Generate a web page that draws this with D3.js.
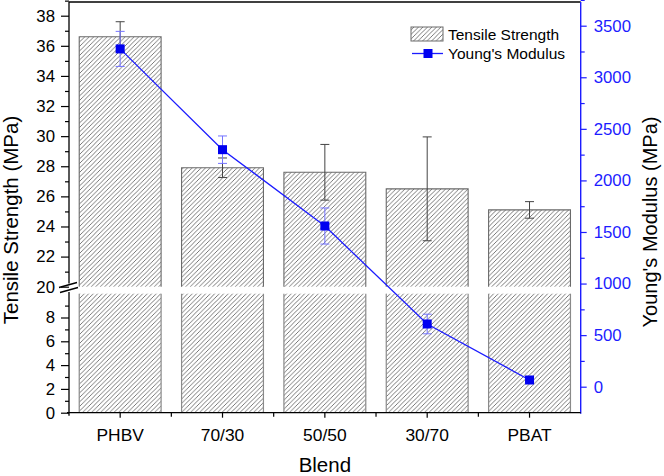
<!DOCTYPE html>
<html><head><meta charset="utf-8">
<script src="https://cdn.jsdelivr.net/npm/d3@7"></script>
<style>
body{margin:0;background:#fff}
svg{display:block;font-family:Arial,"Liberation Sans",sans-serif}
</style>
</head><body>
<svg id="c" width="664" height="476"></svg>
<script>
// ---- data ----
const categories = ["PHBV", "70/30", "50/50", "30/70", "PBAT"];
const tensile = [36.6, 27.9, 27.6, 26.5, 25.1];
const tensileErr = [1.0, 0.65, 1.85, 3.45, 0.55];
const modulus = [3275, 2298, 1558, 608, 65];
const modulusErr = [170, 133, 175, 95, 20];
const leftTicksLower = [0, 2, 4, 6, 8];
const leftTicksUpper = [20, 22, 24, 26, 28, 30, 32, 34, 36, 38];
const rightTicks = [0, 500, 1000, 1500, 2000, 2500, 3000, 3500];
const seriesNames = ["Tensile Strength", "Young's Modulus"];

// ---- layout ----
const L = 69, R = 580.7, T = 2, B = 412.7;
const blue = "#1c1cff", blueErr = "#7474ff";
const svg = d3.select("#c");

const x = d3.scaleBand().domain(categories).range([L, R]).paddingInner(0.2).paddingOuter(0.1);
const yUp = d3.scaleLinear().domain([20, 38]).range([286.7, 15.7]);
const yLo = d3.scaleLinear().domain([0, 10]).range([B, 293.7]);
const yR = d3.scaleLinear().domain([0, 3500]).range([386.7, 25.7]);
const cx = c => x(c) + x.bandwidth() / 2;

// hatch pattern
const defs = svg.append("defs");
const pat = defs.append("pattern").attr("id", "hatch").attr("patternUnits", "userSpaceOnUse")
  .attr("width", 4.5).attr("height", 4.5);
pat.append("rect").attr("width", 4.5).attr("height", 4.5).attr("fill", "#fff");
pat.append("path").attr("d", "M-1,5.5 L5.5,-1 M-1,1 L1,-1 M3.5,5.5 L5.5,3.5")
  .attr("stroke", "#555").attr("stroke-width", 0.8);

// bars
const g = svg.append("g");
categories.forEach((c, i) => {
  const x0 = x(c), w = x.bandwidth();
  g.append("rect").attr("x", x0).attr("y", yLo(10)).attr("width", w).attr("height", yLo(0) - yLo(10))
    .attr("fill", "url(#hatch)");
  g.append("path").attr("d", `M${x0},${yLo(10)}V${yLo(0)}M${x0 + w},${yLo(10)}V${yLo(0)}`)
    .attr("stroke", "#8a8a8a").attr("stroke-width", 1.2).attr("fill", "none");
  const yt = yUp(tensile[i]);
  g.append("rect").attr("x", x0).attr("y", yt).attr("width", w).attr("height", yUp(20) - yt)
    .attr("fill", "url(#hatch)");
  g.append("path").attr("d", `M${x0},${yUp(20)}V${yt}H${x0 + w}V${yUp(20)}`)
    .attr("stroke", "#6a6a6a").attr("stroke-width", 1.1).attr("fill", "none");
});

// tensile error bars
categories.forEach((c, i) => {
  const xc = cx(c), y1 = yUp(tensile[i] + tensileErr[i]), y2 = yUp(tensile[i] - tensileErr[i]);
  g.append("path").attr("d", `M${xc},${y1}V${y2}M${xc - 4.5},${y1}H${xc + 4.5}M${xc - 4.5},${y2}H${xc + 4.5}`)
    .attr("stroke", "#444").attr("stroke-width", 1).attr("fill", "none");
});

// modulus line
const line = d3.line().x((d, i) => cx(categories[i])).y(d => yR(d));
g.append("path").datum(modulus).attr("d", line).attr("stroke", blue).attr("stroke-width", 1.3).attr("fill", "none");
categories.forEach((c, i) => {
  const xc = cx(c), y1 = yR(modulus[i] + modulusErr[i]), y2 = yR(modulus[i] - modulusErr[i]);
  g.append("path").attr("d", `M${xc},${y1}V${y2}M${xc - 4.5},${y1}H${xc + 4.5}M${xc - 4.5},${y2}H${xc + 4.5}`)
    .attr("stroke", blueErr).attr("stroke-width", 1).attr("fill", "none");
});
g.selectAll("rect.pt").data(modulus).enter().append("rect").attr("class", "pt")
  .attr("x", (d, i) => cx(categories[i]) - 4.5).attr("y", d => yR(d) - 4.5)
  .attr("width", 9).attr("height", 9).attr("fill", "#0000f0");

// ---- axes ----
const fs = "16.8px";
svg.append("line").attr("x1", L).attr("x2", R).attr("y1", T).attr("y2", T).attr("stroke", "#000").attr("stroke-width", 1.3);

function styleAxis(sel, col) {
  sel.selectAll("path.domain").remove();
  sel.selectAll("line").attr("stroke", col).attr("stroke-width", 1.2);
  sel.selectAll("text").attr("fill", col).style("font-size", fs).style("font-family", "Arial,'Liberation Sans',sans-serif");
}
const axU = svg.append("g").attr("transform", `translate(${L},0)`)
  .call(d3.axisLeft(yUp).tickValues(leftTicksUpper).tickSize(8).tickPadding(6).tickFormat(d3.format("d")));
styleAxis(axU, "#000");
const axUm = svg.append("g").attr("transform", `translate(${L},0)`)
  .call(d3.axisLeft(yUp).tickValues(leftTicksUpper.map(v => v + 1)).tickSize(4).tickFormat(""));
styleAxis(axUm, "#000");
const axL = svg.append("g").attr("transform", `translate(${L},0)`)
  .call(d3.axisLeft(yLo).tickValues(leftTicksLower).tickSize(8).tickPadding(6).tickFormat(d3.format("d")));
styleAxis(axL, "#000");
const axLm = svg.append("g").attr("transform", `translate(${L},0)`)
  .call(d3.axisLeft(yLo).tickValues(leftTicksLower.map(v => v + 1)).tickSize(4).tickFormat(""));
styleAxis(axLm, "#000");
svg.append("path").attr("d", `M${L},${T}V283.5M${L},292V${B + 3}`).attr("stroke", "#000").attr("stroke-width", 1.3);
svg.append("path").attr("d", "M59,287.5L77,282.5M60,292.5L78,287.5").attr("stroke", "#000").attr("stroke-width", 1.3);

const axR = svg.append("g").attr("transform", `translate(${R},0)`)
  .call(d3.axisRight(yR).tickValues(rightTicks).tickSize(6).tickPadding(7).tickFormat(d3.format("d")));
styleAxis(axR, blue);
const axRm = svg.append("g").attr("transform", `translate(${R},0)`)
  .call(d3.axisRight(yR).tickValues(rightTicks.map(v => v + 250)).tickSize(4).tickFormat(""));
styleAxis(axRm, blue);
svg.append("line").attr("x1", R).attr("x2", R).attr("y1", T).attr("y2", B + 1).attr("stroke", blue).attr("stroke-width", 1.4);

const axB = svg.append("g").attr("transform", `translate(0,${B})`)
  .call(d3.axisBottom(x).tickSize(5).tickPadding(11));
styleAxis(axB, "#000");
axB.selectAll("text").style("font-size", "17.4px");
const bounds = d3.range(categories.length + 1).map(i => L + i * x.step());
svg.append("g").selectAll("line").data(bounds.slice(1, -1)).enter().append("line")
  .attr("x1", d => d).attr("x2", d => d).attr("y1", B).attr("y2", B + 4).attr("stroke", "#000").attr("stroke-width", 1.2);
svg.append("line").attr("x1", L - 2).attr("x2", R).attr("y1", B).attr("y2", B).attr("stroke", "#000").attr("stroke-width", 1.3);

// titles
svg.append("text").attr("x", (L + R) / 2).attr("y", 471.5).attr("text-anchor", "middle")
  .style("font-size", "20.5px").text("Blend");
svg.append("text").attr("transform", "translate(18,220) rotate(-90)").attr("text-anchor", "middle")
  .style("font-size", "20.5px").text("Tensile Strength (MPa)");
svg.append("text").attr("transform", "translate(656.5,222) rotate(-90)").attr("text-anchor", "middle")
  .style("font-size", "20px").text("Young's Modulus (MPa)");

// legend
const lg = svg.append("g");
lg.append("rect").attr("x", 411).attr("y", 27).attr("width", 32).attr("height", 14)
  .attr("fill", "url(#hatch)").attr("stroke", "#6a6a6a").attr("stroke-width", 1);
lg.append("text").attr("x", 448).attr("y", 39.5).style("font-size", "15.5px").text(seriesNames[0]);
lg.append("line").attr("x1", 412).attr("x2", 443).attr("y1", 53.5).attr("y2", 53.5).attr("stroke", blue).attr("stroke-width", 1.3);
lg.append("rect").attr("x", 423.5).attr("y", 49).attr("width", 9).attr("height", 9).attr("fill", "#0000f0");
lg.append("text").attr("x", 448).attr("y", 59).style("font-size", "15.5px").text(seriesNames[1]);
</script>
</body></html>
